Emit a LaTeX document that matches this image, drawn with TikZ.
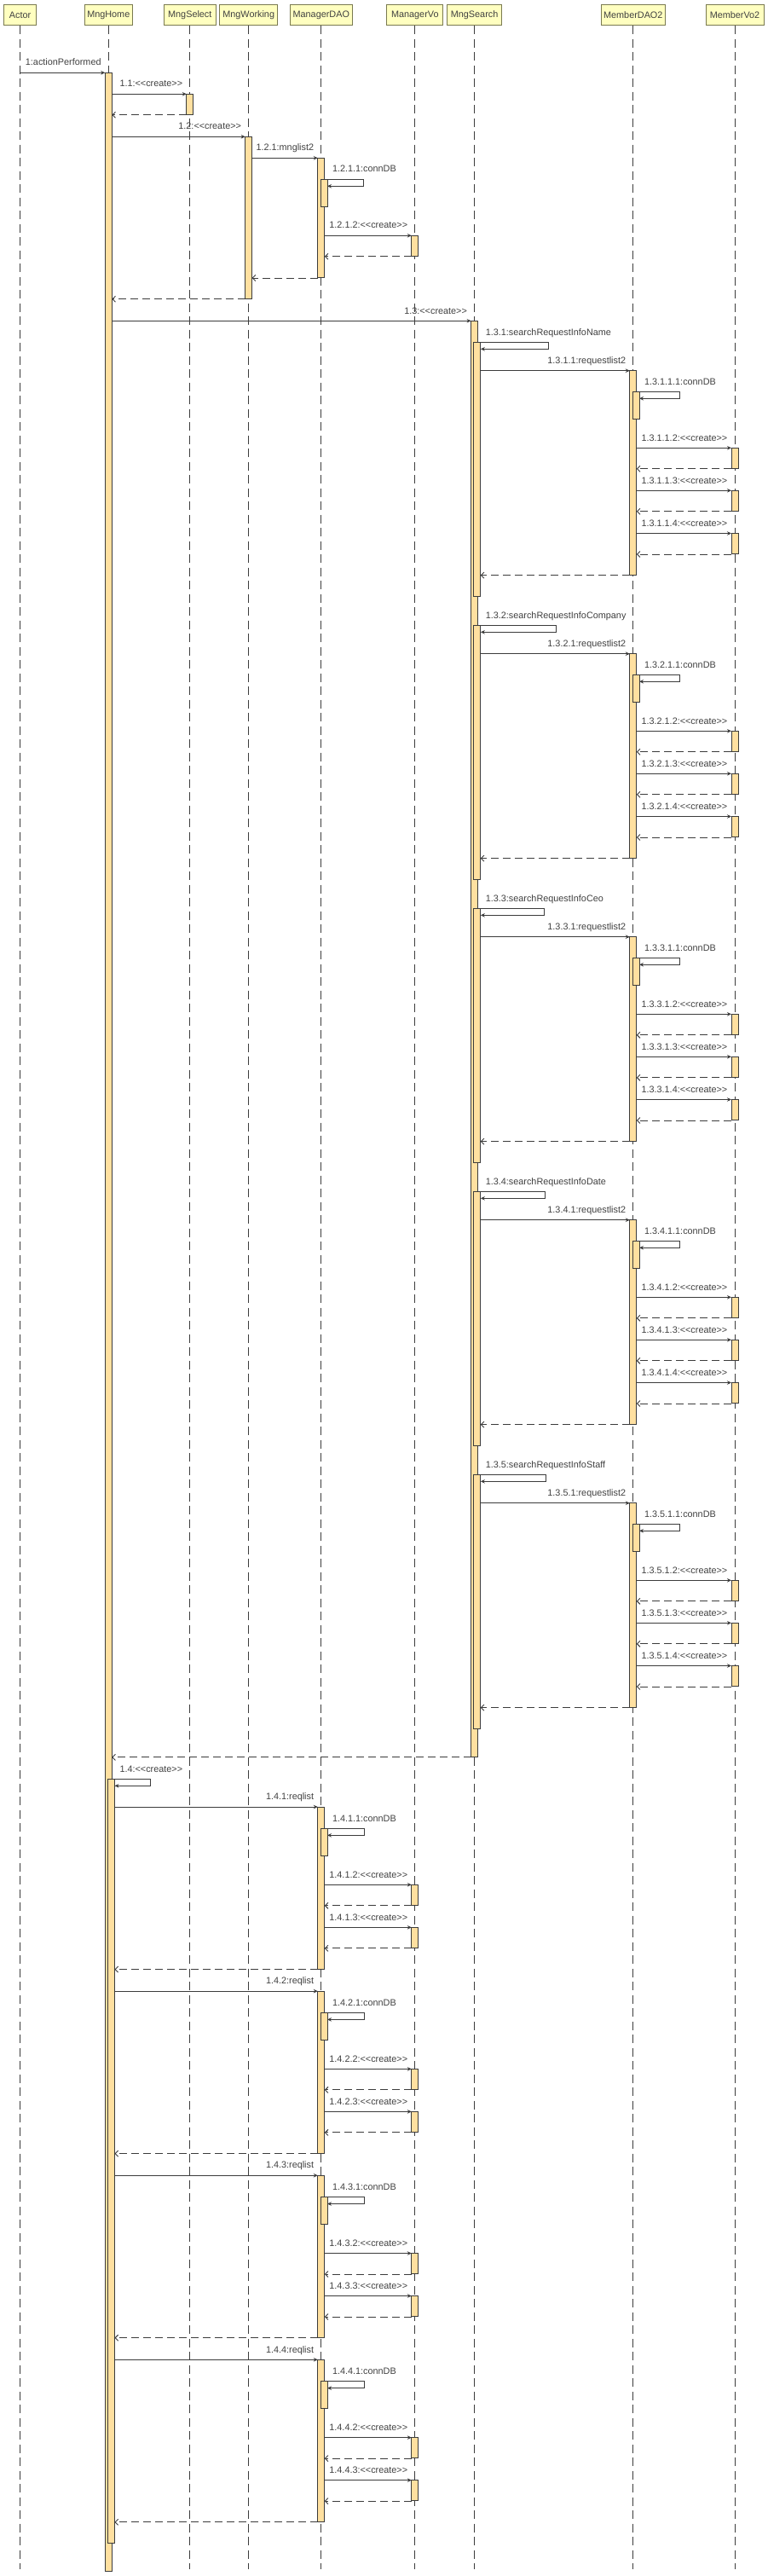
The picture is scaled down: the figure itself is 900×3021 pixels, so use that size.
\documentclass[tikz,border=0pt]{standalone}
\usepackage{fontspec}
\setmainfont{Liberation Sans}
\usetikzlibrary{arrows.meta,calc}
\definecolor{hdrfill}{HTML}{FFFFC0}
\definecolor{hdrline}{HTML}{7A7A50}
\definecolor{actfill}{HTML}{FFE0A0}
\definecolor{ink}{HTML}{3C3C3C}
\definecolor{txt}{HTML}{404040}
\def\xA{23.5}
\def\xH{127.3}
\def\xS{222.8}
\def\xW{291.7}
\def\xD{376.8}
\def\xV{486.8}
\def\xQ{556.6}
\def\xM{742.8}
\def\xN{862}
\newcommand\actnode[4]{\node[actv, minimum height={(#4-(#3))*1pt}] (#1) at (#2,#3) {};}
\newcommand\smsg[5]{%
  \coordinate (#1s) at (#2,#4);
  \coordinate (#1t) at (#3,#4);
  \draw[sync] (#1s) -- (#1t);
  \node[lbl, anchor=base east] (#1l) at ($(#1t)+(-4.5,-8.3)$) {#5};}
\newcommand\rmsg[4]{%
  \coordinate (#1s) at (#2,#4);
  \coordinate (#1t) at (#3,#4);
  \draw[ret] (#1s) -- (#1t);}
\newcommand\selfmsg[6]{%
  \coordinate (#1s) at (#2,#5);
  \coordinate (#1t) at (#4,#5+8);
  \draw[sync] (#1s) -- (#3,#5) -- (#3,#5+8) -- (#1t);
  \node[lbl, anchor=base west] (#1l) at ($(#1s)+(9,-8.3)$) {#6};}
\tikzset{
  hdr/.style={draw=hdrline, fill=hdrfill, line width=0.8pt, inner sep=0pt, minimum height=24.3pt, text=txt, font=\fontsize{10.85}{13}\selectfont, anchor=north},
  life/.style={draw=ink, line width=0.8pt, dash pattern=on 10pt off 5.5pt},
  actv/.style={draw=ink, fill=actfill, line width=0.8pt, inner sep=0pt, outer sep=0pt, minimum width=8pt, anchor=north},
  sync/.style={draw=ink, line width=0.9pt, -{Stealth[length=5pt,width=4.5pt]}},
  ret/.style={draw=ink, line width=0.9pt, dash pattern=on 9pt off 5pt, -{Straight Barb[length=3.5pt,width=7pt]}},
  lbl/.style={text=txt, font=\fontsize{10.85}{13}\selectfont, inner sep=0pt},
}
\begin{document}
\begin{tikzpicture}[x=1pt,y=-1pt]
\fill[white] (0,0) rectangle (900,3021);
\useasboundingbox (0,0) rectangle (900,3021);
% headers
\node[hdr, minimum width=38pt] (hA) at (\xA,5) {Actor};
\node[hdr, minimum width=56pt] (hH) at (\xH,5) {MngHome};
\node[hdr, minimum width=60.3pt] (hS) at (\xS,5) {MngSelect};
\node[hdr, minimum width=67.7pt] (hW) at (\xW,5) {MngWorking};
\node[hdr, minimum width=73.5pt] (hD) at (\xD,5) {ManagerDAO};
\node[hdr, minimum width=66.1pt] (hV) at (\xV,5) {ManagerVo};
\node[hdr, minimum width=64.3pt] (hQ) at (\xQ,5) {MngSearch};
\node[hdr, minimum width=75.8pt] (hM) at (\xM,5) {MemberDAO2};
\node[hdr, minimum width=67.8pt] (hN) at (\xN,5) {MemberVo2};
% lifelines
\foreach \nn/\xx in {A/\xA,H/\xH,S/\xS,W/\xW,D/\xD,V/\xV,Q/\xQ,M/\xM,N/\xN} {
  \coordinate (e\nn) at (\xx,3013);
  \draw[life] (h\nn.south) -- (e\nn);
}
% main activations
\actnode{aHome}{\xH}{85.3}{3015}
\actnode{aSel}{\xS}{110.3}{134.8}
\actnode{aWork}{\xW}{160.3}{350.3}
\actnode{aDao}{\xD}{185.3}{325.7}
\actnode{aDaoN}{\xD+3.2}{210.3}{242.3}
\actnode{aVo}{\xV}{276.3}{300.3}
\actnode{aSrch}{\xQ}{376.3}{2060.3}
\actnode{aHomeN}{\xH+3.2}{2086.3}{2982.3}
% first messages
\smsg{m1}{\xA}{\xH-4}{85.3}{1:actionPerformed}
\smsg{m11}{\xH+4}{\xS-4}{110.3}{1.1:<{}<create>{}>}
\rmsg{r11}{\xS-4}{\xH+4}{134.8}
\smsg{m12}{\xH+4}{\xW-4}{160.3}{1.2:<{}<create>{}>}
\smsg{m121}{\xW+4}{\xD-4}{185.3}{1.2.1:mnglist2}
\selfmsg{m1211}{\xD+4}{426.7}{\xD+7.2}{210.3}{1.2.1.1:connDB}
\smsg{m1212}{\xD+4}{\xV-4}{276.3}{1.2.1.2:<{}<create>{}>}
\rmsg{r1212}{\xV-4}{\xD+4}{300.8}
\rmsg{r121}{\xD-4}{\xW+4}{326}
\rmsg{r12}{\xW-4}{\xH+4}{350.8}
\smsg{m13}{\xH+4}{\xQ-4}{376.3}{1.3:<{}<create>{}>}
% search blocks
\foreach \kk/\nm/\xs in {1/Name/643.4,2/Company/652,3/Ceo/638.7,4/Date/639.3,5/Staff/640.3} {
  \pgfmathsetmacro\yB{401.3+332*(\kk-1)}
  \actnode{qn\kk}{\xQ+3.2}{\yB}{\yB+298}
  \actnode{md\kk}{\xM}{\yB+33.4}{\yB+273}
  \actnode{mdn\kk}{\xM+3.2}{\yB+58}{\yB+90}
  \foreach \nn/\dy in {2/124,3/174,4/224.2} {
    \actnode{mv\kk\nn}{\xN}{\yB+\dy}{\yB+\dy+24}
    \smsg{mc\kk\nn}{\xM+4}{\xN-4}{\yB+\dy}{1.3.\kk.1.\nn:<{}<create>{}>}
    \rmsg{rc\kk\nn}{\xN-4}{\xM+4}{\yB+\dy+24.5}
  }
  \selfmsg{ms\kk}{\xQ+4}{\xs}{\xQ+7.2}{\yB}{1.3.\kk:searchRequestInfo\nm}
  \smsg{mr\kk}{\xQ+7.2}{\xM-4}{\yB+33.4}{1.3.\kk.1:requestlist2}
  \selfmsg{mcd\kk}{\xM+4}{797}{\xM+7.2}{\yB+58}{1.3.\kk.1.1:connDB}
  \rmsg{rr\kk}{\xM-4}{\xQ+7.2}{\yB+273.3}
}
\rmsg{rS}{\xQ-4}{\xH+4}{2060.8}
\selfmsg{m14}{\xH+4}{176.6}{\xH+7.2}{2086.3}{1.4:<{}<create>{}>}
% reqlist blocks
\foreach \jj in {1,...,4} {
  \pgfmathsetmacro\yA{2119+216.1*(\jj-1)}
  \actnode{dj\jj}{\xD}{\yA}{\yA+190.3}
  \actnode{djn\jj}{\xD+3.2}{\yA+25.3}{\yA+57.3}
  \foreach \nn/\dy in {2/91.3,3/141.3} {
    \actnode{vj\jj\nn}{\xV}{\yA+\dy}{\yA+\dy+24}
    \smsg{mj\jj\nn}{\xD+4}{\xV-4}{\yA+\dy}{1.4.\jj.\nn:<{}<create>{}>}
    \rmsg{rj\jj\nn}{\xV-4}{\xD+4}{\yA+\dy+24.5}
  }
  \smsg{mq\jj}{\xH+7.2}{\xD-4}{\yA}{1.4.\jj:reqlist}
  \selfmsg{mjc\jj}{\xD+4}{427}{\xD+7.2}{\yA+25.3}{1.4.\jj.1:connDB}
  \rmsg{rq\jj}{\xD-4}{\xH+7.2}{\yA+190.5}
}
\end{tikzpicture}
\end{document}
